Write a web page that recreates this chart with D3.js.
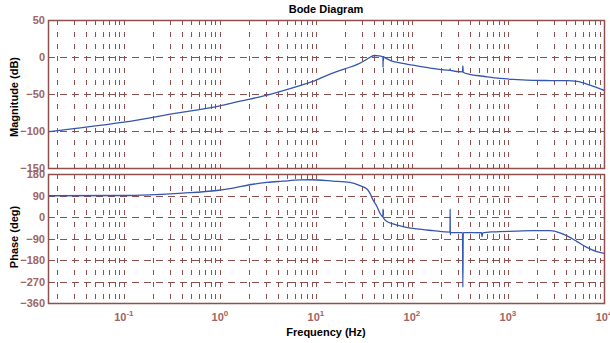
<!DOCTYPE html>
<html>
<head>
<meta charset="utf-8">
<script src="https://cdn.jsdelivr.net/npm/d3@7"></script>
<style>
  body { margin: 0; background: #fff; }
  svg { display: block; font-family: 'Liberation Sans', Arial, sans-serif; }
</style>
</head>
<body>
<svg id="scribbler"></svg>
<script>
// magnitude curve (Hz, dB)
let magFreq = [0.0162, 0.0316, 0.1, 0.316, 1.0, 1.58, 2.8, 6.3, 9.3, 14, 20, 27, 34, 37, 41, 45.5, 49.9, 50, 50.1, 55, 59, 69, 102, 155, 249, 250, 251, 336, 339, 342, 398, 550, 826, 1240, 1820, 2740, 4100, 5240, 7150, 10000]
let magDb = [-101, -96.5, -88, -77, -66, -60, -53, -40, -33, -23, -16, -10, -3, 0, 2, 1.5, 0, -14, 0, -2.5, -4.5, -7, -11, -15, -18, -16, -18, -20, -12, -20.5, -23.4, -26, -29, -30.5, -31.5, -31.8, -32, -33, -38, -45]

// phase curve (Hz, deg)
let phaseFreq = [0.0162, 0.1, 0.187, 0.41, 0.93, 1.37, 2.05, 3.09, 4.5, 6.8, 8.66, 15, 22.6, 28.7, 34, 36.5, 39.2, 43.2, 46.4, 49.9, 50, 50.1, 55, 63.5, 80.5, 112, 166, 249, 250, 251, 252, 336, 339, 342, 400, 530, 537, 545, 700, 1240, 1820, 2740, 3480, 4120, 5240, 6630, 8430, 10000]
let phaseDeg = [89, 90, 93, 100, 111, 121, 135, 145, 150, 155, 156, 150.5, 144.7, 131, 117, 100, 72, 44, 16, 1, 33, -1, -19, -29, -40, -50, -57, -63, 34, -75, -64, -65, -294, -65, -65.5, -66, -83, -66, -62, -59, -57, -57, -66, -79, -103, -127, -145, -152]

let magTicks = [50, 0, -50, -100, -150]
let phaseTicks = [180, 90, 0, -90, -180, -270, -360]
let freqExps = [-1, 0, 1, 2, 3, 4]

let width = 610
let height = 343
let left = 48
let right = 604

let gridColor = '#8e4f4f'
let labelColor = '#a06464'
let lineColor = '#3556b0'

let scribbler = d3.select('#scribbler')
scribbler.attr('width', width).attr('height', height)

let xScale = d3.scaleLog()
    .domain([Math.pow(10, -1.79), 1e4])
    .range([left, right])

let magScale = d3.scaleLinear().domain([-150, 50]).range([168, 20])
let phaseScale = d3.scaleLinear().domain([-360, 180]).range([303, 174])

// every 1..9 x decade inside the domain
let gridFreqs = []
for (let d = -2; d <= 4; d++) {
    for (let k = 1; k <= 9; k++) {
        let f = k * Math.pow(10, d)
        if (f > xScale.domain()[0] && f < 1e4) gridFreqs.push(f)
    }
}

let drawPanel = (id, yScale, ticks, xs, ys) => {
    let top = yScale.range()[1]
    let bottom = yScale.range()[0]
    let g = scribbler.append('g').attr('id', id)

    g.append('clipPath').attr('id', id + '-clip')
        .append('rect')
        .attr('x', left).attr('y', top)
        .attr('width', right - left).attr('height', bottom - top)

    g.selectAll('line.vgrid')
        .data(gridFreqs)
        .enter()
        .append('line')
        .attr('class', 'vgrid')
        .attr('x1', (f) => Math.round(xScale(f)) + 0.5)
        .attr('x2', (f) => Math.round(xScale(f)) + 0.5)
        .attr('y1', top)
        .attr('y2', bottom)
        .attr('stroke', gridColor)
        .attr('stroke-width', 1)
        .attr('stroke-dasharray', '5,7')

    g.selectAll('line.hgrid')
        .data(ticks)
        .enter()
        .append('line')
        .attr('class', 'hgrid')
        .attr('x1', left)
        .attr('x2', right)
        .attr('y1', (t) => Math.round(yScale(t)) + 0.5)
        .attr('y2', (t) => Math.round(yScale(t)) + 0.5)
        .attr('stroke', gridColor)
        .attr('stroke-width', 1)
        .attr('stroke-dasharray', '7,5')

    let yAxis = d3.axisLeft(yScale)
        .tickValues(ticks)
        .tickSize(0)
        .tickPadding(3)
    let ax = g.append('g')
        .attr('transform', 'translate(' + left + ',0)')
        .call(yAxis)
    ax.select('.domain').remove()
    ax.selectAll('text')
        .attr('fill', labelColor)
        .style('font-size', '11px')
        .style('font-weight', 'bold')
        .style('font-family', "'Liberation Sans', Arial, sans-serif")

    let line = d3.line()
        .curve(d3.curveMonotoneX)
        .x((d) => xScale(d[0]))
        .y((d) => yScale(d[1]))

    g.append('path')
        .datum(xs.map((f, i) => [f, ys[i]]))
        .attr('clip-path', 'url(#' + id + '-clip)')
        .attr('d', line)
        .attr('fill', 'none')
        .attr('stroke', lineColor)
        .attr('stroke-width', 1.3)

    g.append('rect')
        .attr('x', left + 0.5).attr('y', top + 0.5)
        .attr('width', right - left).attr('height', bottom - top)
        .attr('fill', 'none')
        .attr('stroke', gridColor)
        .attr('stroke-width', 1.5)
}

drawPanel('mag', magScale, magTicks, magFreq, magDb)
drawPanel('phase', phaseScale, phaseTicks, phaseFreq, phaseDeg)

// x tick labels 10^n
let xl = scribbler.append('g')
    .selectAll('text')
    .data(freqExps)
    .enter()
    .append('text')
    .attr('x', (e) => xScale(Math.pow(10, e)))
    .attr('y', 321)
    .attr('text-anchor', 'middle')
    .attr('fill', labelColor)
    .style('font-size', '11px')
    .style('font-weight', 'bold')
xl.append('tspan').text('10')
xl.append('tspan')
    .attr('dy', -5)
    .style('font-size', '8px')
    .text((e) => e)

let labelStyle = (sel) => sel
    .attr('fill', '#000')
    .attr('text-anchor', 'middle')
    .style('font-size', '11px')
    .style('font-weight', 'bold')

scribbler.append('text').call(labelStyle)
    .attr('x', 326).attr('y', 13)
    .text('Bode Diagram')

scribbler.append('text').call(labelStyle)
    .attr('x', 326).attr('y', 336)
    .text('Frequency  (Hz)')

scribbler.append('text').call(labelStyle)
    .attr('transform', 'translate(18,97) rotate(-90)')
    .text('Magnitude (dB)')

scribbler.append('text').call(labelStyle)
    .attr('transform', 'translate(18,237) rotate(-90)')
    .text('Phase (deg)')
</script>
</body>
</html>
